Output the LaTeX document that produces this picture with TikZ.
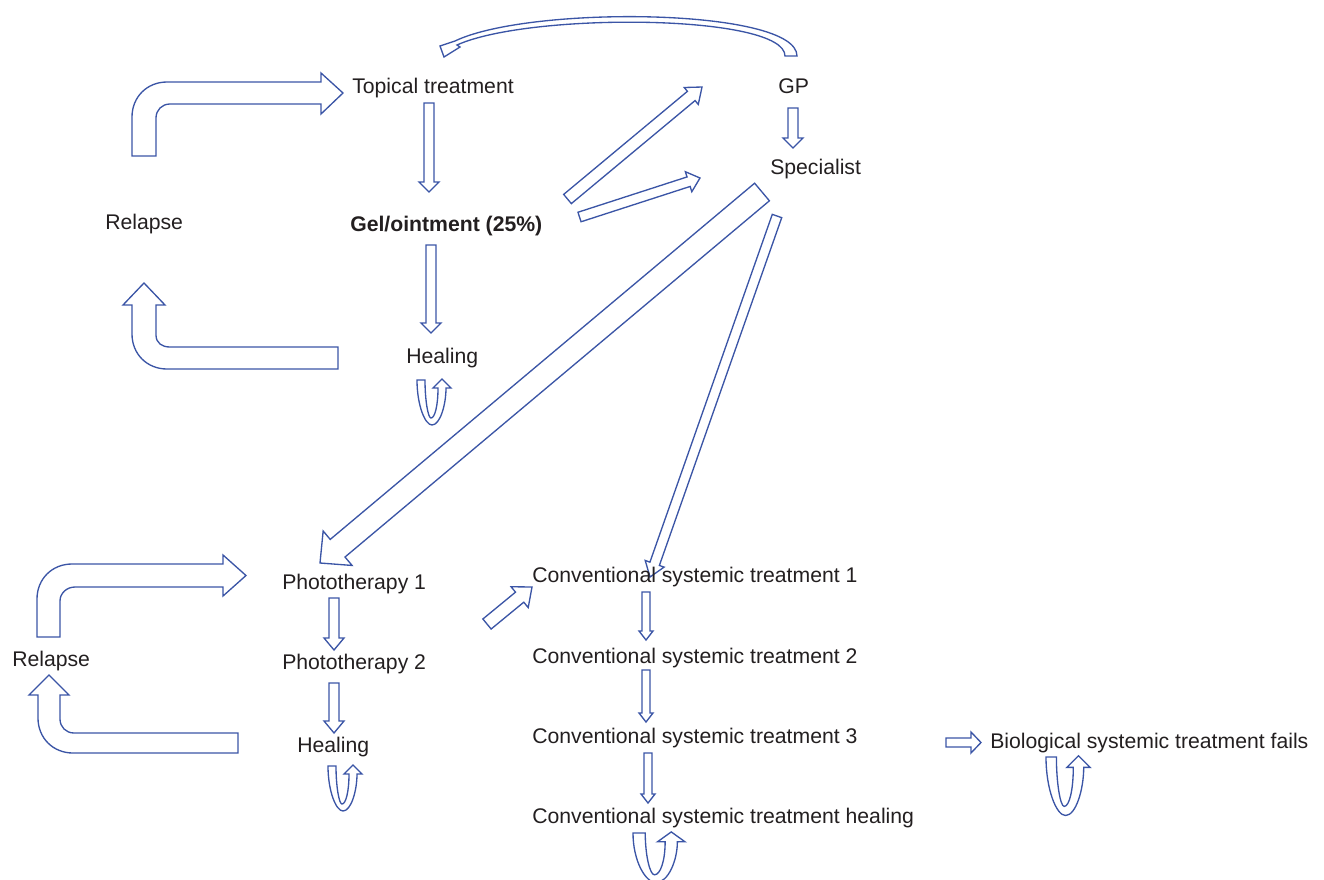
\documentclass[tikz,border=0pt]{standalone}
\usepackage{fontspec}
\setmainfont{Liberation Sans}
\usetikzlibrary{calc}
\definecolor{arrowblue}{HTML}{3B55A6}
\definecolor{txt}{HTML}{231F20}
\newcommand{\blockarrow}[5]{%
  \coordinate (ba-n) at ($(#2)!{#5*0.75pt}!(#1)$);
  \draw[blk] ($(#1)!{#3*0.75pt}!90:(#2)$) -- ($(ba-n)!{#3*0.75pt}!90:(#2)$)
    -- ($(ba-n)!{#4*0.75pt}!90:(#2)$) -- (#2) -- ($(ba-n)!{#4*0.75pt}!-90:(#2)$)
    -- ($(ba-n)!{#3*0.75pt}!-90:(#2)$) -- ($(#1)!{#3*0.75pt}!-90:(#2)$) -- cycle;}
\begin{document}
\begin{tikzpicture}[x=0.75pt,y=-0.75pt,
  lbl/.style={anchor=base west, inner sep=0pt, text=txt, font=\fontsize{15.9}{19}\selectfont},
  blk/.style={draw=arrowblue, line width=1pt, fill=white, line join=miter},
  uloop/.pic={\draw[blk] (0,0) .. controls (0,25) and (8,45) .. (15,45)
      .. controls (23,45) and (29,25) .. (29,8) -- (34,8) -- (25,-1) -- (16,8) -- (21,8)
      .. controls (21,25) and (18,38) .. (14,38) .. controls (11,38) and (8,20) .. (8,0) -- cycle;}]
\useasboundingbox (0,0) rectangle (1324,879);
\clip (0,0) rectangle (1324,879);

% arrow end points
\coordinate (topical-s) at (429,103); \coordinate (gel-n) at (429,192);
\coordinate (gel-s) at (431,245); \coordinate (heal1-n) at (431,333);
\coordinate (gp-s) at (793,108); \coordinate (spec-n) at (793,148);
\coordinate (gel-ne) at (567.5,199); \coordinate (gp-w) at (702,87);
\coordinate (gel-e) at (579.5,217); \coordinate (spec-w) at (700,178);
\coordinate (spec-sw) at (762,192); \coordinate (photo1-n) at (320,563);
\coordinate (spec-s) at (777,216); \coordinate (conv1-n) at (650,577);
\coordinate (photo1-e) at (487,624); \coordinate (conv1-w) at (532,587);
\coordinate (photo1-s) at (334,598); \coordinate (photo2-n) at (334,650);
\coordinate (photo2-s) at (334,683); \coordinate (heal2-n) at (334,733);
\coordinate (conv1-s) at (646,592); \coordinate (conv2-n) at (646,640);
\coordinate (conv2-s) at (646,670); \coordinate (conv3-n) at (646,722);
\coordinate (conv3-s) at (648,753); \coordinate (convheal-n) at (648,803);
\coordinate (conv3-e) at (946,742.5); \coordinate (bio-w) at (981,742.5);

% straight block arrows
\blockarrow{topical-s}{gel-n}{5}{10}{10}
\blockarrow{gel-s}{heal1-n}{5}{10}{10}
\blockarrow{gp-s}{spec-n}{5}{10}{10}
\blockarrow{gel-ne}{gp-w}{6}{11}{14}
\blockarrow{gel-e}{spec-w}{5}{10.5}{12}
\blockarrow{spec-sw}{photo1-n}{11.5}{22.5}{23}
\blockarrow{spec-s}{conv1-n}{5}{10}{14}
\blockarrow{photo1-e}{conv1-w}{6.5}{13.5}{16}
\blockarrow{photo1-s}{photo2-n}{5}{10}{12}
\blockarrow{photo2-s}{heal2-n}{5}{10}{12}
\blockarrow{conv1-s}{conv2-n}{4}{7}{9}
\blockarrow{conv2-s}{conv3-n}{4}{7}{9}
\blockarrow{conv3-s}{convheal-n}{4}{7}{9}
\blockarrow{conv3-e}{bio-w}{4.5}{10.5}{10}

% curved arrow GP -> Topical treatment
\draw[blk] (797,56) .. controls (797,8) and (530,5) .. (455,41) -- (440,46) -- (444,57) -- (460,47) -- (457,45)
  .. controls (530,12) and (785,14) .. (785,56) -- cycle;

% bent arrows (top relapse loop)
\draw[blk] (132,156) -- (132,117) .. controls (132,97) and (147,82) .. (167,82) -- (321,82) -- (321,73)
  -- (343,93) -- (321,114) -- (321,104) -- (170,104) .. controls (162,104) and (156,110) .. (156,118)
  -- (156,156) -- cycle;
\draw[blk] (338,369) -- (167,369) .. controls (147,369) and (132,354) .. (132,334) -- (132,305)
  -- (123,305) -- (144,283) -- (165,305) -- (156,305) -- (156,335) .. controls (156,343) and (162,347) .. (170,347)
  -- (338,347) -- cycle;

% bent arrows (bottom relapse loop)
\draw[blk] (37,637) -- (37,599) .. controls (37,579) and (52,564) .. (72,564) -- (223,564) -- (223,555)
  -- (246,575.5) -- (223,596) -- (223,587) -- (75,587) .. controls (67,587) and (60,593) .. (60,601)
  -- (60,637) -- cycle;
\draw[blk] (238,753) -- (73,753) .. controls (53,753) and (38,738) .. (38,718) -- (38,695) -- (29,695)
  -- (49,675) -- (69,695) -- (60,695) -- (60,719) .. controls (60,727) and (66,733) .. (74,733)
  -- (238,733) -- cycle;

% U-turn loops
\pic at (417,380) {uloop};
\pic at (328,766) {uloop};
\pic[xscale=1.53, yscale=1.1] at (633,833) {uloop};
\pic[scale=1.3] at (1046,757) {uloop};

% labels (drawn last, on top)
\node[lbl] (topical) at (352,93) {Topical treatment};
\node[lbl] (gp) at (778,93) {GP};
\node[lbl] (spec) at (770,174) {Specialist};
\node[lbl] (relapse1) at (105,229) {Relapse};
\node[lbl, font=\fontsize{15.9}{19}\selectfont\bfseries] (gel) at (350,231) {Gel/ointment (25\%)};
\node[lbl] (heal1) at (406,363) {Healing};
\node[lbl] (photo1) at (282,589) {Phototherapy 1};
\node[lbl] (photo2) at (282,669) {Phototherapy 2};
\node[lbl] (heal2) at (297,752) {Healing};
\node[lbl] (relapse2) at (12,666) {Relapse};
\node[lbl] (conv1) at (532,582) {Conventional systemic treatment 1};
\node[lbl] (conv2) at (532,663) {Conventional systemic treatment 2};
\node[lbl] (conv3) at (532,743) {Conventional systemic treatment 3};
\node[lbl] (convheal) at (532,823) {Conventional systemic treatment healing};
\node[lbl] (bio) at (990,748) {Biological systemic treatment fails};
\end{tikzpicture}
\end{document}
